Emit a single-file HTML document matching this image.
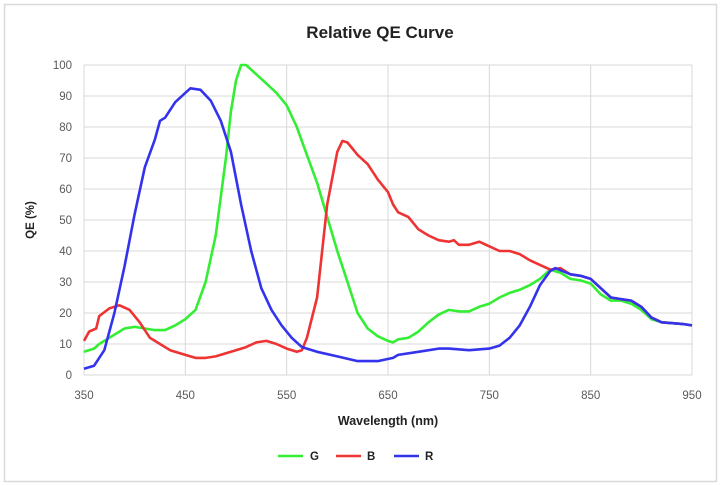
<!DOCTYPE html>
<html><head><meta charset="utf-8"><style>
html,body{margin:0;padding:0;background:#fff;}
svg{display:block;font-family:"Liberation Sans",sans-serif;}
</style></head><body>
<svg id="s" width="721" height="486" xmlns="http://www.w3.org/2000/svg">
<rect x="4.5" y="4.5" width="712" height="477" fill="#fff" stroke="#d9d9d9" stroke-width="1.5"/>
<text x="380" y="38" text-anchor="middle" font-size="17" font-weight="bold" fill="#222">Relative QE Curve</text>
<g id="grid" stroke="#d9d9d9" stroke-width="1"></g>
<g id="lbl" font-size="11.5" fill="#595959"></g>
<text transform="translate(34,220) rotate(-90)" text-anchor="middle" font-size="11.5" font-weight="bold" fill="#222">QE (%)</text>
<text x="388" y="425" text-anchor="middle" font-size="12.5" font-weight="bold" fill="#222">Wavelength (nm)</text>
<g id="curves" fill="none" stroke-width="2.6" stroke-linejoin="round"></g>
<g font-size="11.5" font-weight="bold" fill="#222">
<line x1="278" y1="456" x2="303" y2="456" stroke="#33ee33" stroke-width="2.6"/><text x="310" y="460">G</text>
<line x1="336" y1="456" x2="361" y2="456" stroke="#ee3333" stroke-width="2.6"/><text x="367" y="460">B</text>
<line x1="394" y1="456" x2="419" y2="456" stroke="#3333ee" stroke-width="2.6"/><text x="425" y="460">R</text>
</g>
</svg>
<script>
const X=w=>84+(w-350)*(608/600), Y=v=>375-v*3.1;
const ns="http://www.w3.org/2000/svg";
const g=document.getElementById('grid'), l=document.getElementById('lbl');
function el(p,t,a,txt){const e=document.createElementNS(ns,t);for(const k in a)e.setAttribute(k,a[k]);if(txt!=null)e.textContent=txt;p.appendChild(e);}
for(let v=0;v<=100;v+=10){el(g,'line',{x1:84,x2:692,y1:Y(v),y2:Y(v)});el(l,'text',{x:72,y:Y(v)+4,'text-anchor':'end'},v);}
for(let w=350;w<=950;w+=100){el(g,'line',{x1:X(w),x2:X(w),y1:Y(0),y2:Y(100)});el(l,'text',{x:X(w),y:399,'text-anchor':'middle'},w);}
const G=[350,7.5,360,8.5,365,10,380,13,390,15,400,15.5,410,15,420,14.5,430,14.5,440,16,450,18,460,21,470,30,480,45,490,70,495,85,500,95,505,100,510,100,520,97,530,94,540,91,550,87,560,80,570,71,580,62,590,51,600,40,610,30,620,20,630,15,640,12.5,650,11,655,10.5,660,11.5,670,12,680,14,690,17,700,19.5,710,21,720,20.5,730,20.5,740,22,750,23,760,25,770,26.5,780,27.5,790,29,800,31,810,34,820,33,830,31,840,30.5,850,29.5,860,26,870,24,880,24,890,23,900,21,910,18,920,17,940,16.5,950,16];
const B=[350,11,355,14,362,15,365,19,375,21.5,385,22.5,395,21,405,17,415,12,425,10,435,8,450,6.5,460,5.5,470,5.5,480,6,490,7,500,8,510,9,520,10.5,530,11,540,10,550,8.5,560,7.5,565,8,570,12,580,25,590,55,600,72,605,75.5,610,75,620,71,630,68,640,63,650,59,655,55,660,52.5,670,51,680,47,690,45,700,43.5,710,43,715,43.5,720,42,730,42,740,43,750,41.5,760,40,770,40,780,39,790,37,800,35.5,810,34,820,34.5,830,32.5,840,32,850,31,860,28,870,25,880,24.5,890,24,900,22,910,18.5,920,17,940,16.5,950,16];
const R=[350,2,360,3,370,8,380,20,390,35,400,52,410,67,420,76,425,82,430,83,440,88,450,91,455,92.5,465,92,475,88.5,485,82,495,72,505,55,515,40,525,28,535,21,545,16,555,12,565,9,580,7.5,600,6,620,4.5,640,4.5,655,5.5,660,6.5,680,7.5,700,8.5,710,8.5,730,8,750,8.5,760,9.5,770,12,780,16,790,22,800,29,810,33.5,815,34.5,830,32.5,840,32,850,31,860,28,870,25,880,24.5,890,24,900,22,910,18.5,920,17,940,16.5,950,16];
const c=document.getElementById('curves');
[[G,'#33ee33'],[B,'#ee3333'],[R,'#3333ee']].forEach(([d,col])=>{let p=[];for(let i=0;i<d.length;i+=2)p.push(X(d[i]).toFixed(1)+','+Y(d[i+1]).toFixed(1));el(c,'polyline',{points:p.join(' '),stroke:col});});
</script>
</body></html>
